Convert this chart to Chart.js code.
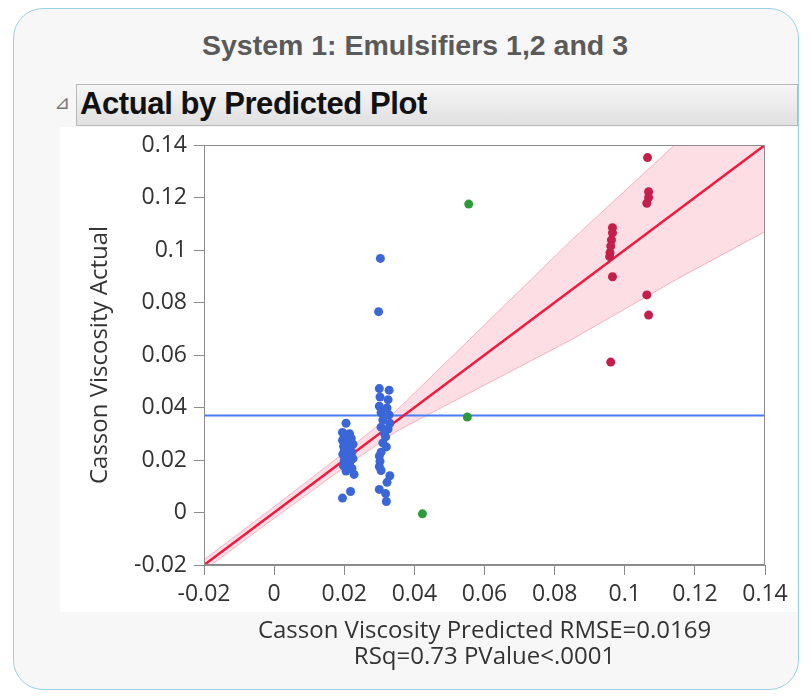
<!DOCTYPE html>
<html>
<head>
<meta charset="utf-8">
<script src="https://cdn.jsdelivr.net/npm/chart.js@4.4.1/dist/chart.umd.min.js"></script>
<style>
  body { margin:0; background:#fff; width:811px; height:700px; overflow:hidden; position:relative; font-family:"Liberation Sans", Arial, sans-serif; }
  #panel { position:absolute; left:13px; top:8px; width:784px; height:680px; border:1.5px solid #97d3e3; border-radius:30px; background:#f7f7f7; }
  #title { position:absolute; left:0; width:830px; top:29px; text-align:center; font-weight:bold; font-size:28.5px; color:#5a5a5a; }
  #plotbg { position:absolute; left:60px; top:127px; width:737px; height:485px; background:#fff; }
  #header { position:absolute; left:76px; top:84px; width:720px; height:40px; border:1px solid #b8b8b8; background:linear-gradient(#f6f6f6,#e0e0e0); }
  #header span { position:absolute; left:3px; top:1px; font-weight:bold; font-size:31px; color:#111; letter-spacing:-0.4px; }
  #tri { position:absolute; left:54px; top:91px; font-family:"DejaVu Sans"; font-size:19px; color:#777; }
  canvas { position:absolute; left:0; top:0; }
</style>
</head>
<body>
<div id="panel"></div>
<div id="title">System 1: Emulsifiers 1,2 and 3</div>
<div id="plotbg"></div>
<div id="tri">⊿</div>
<div id="header"><span>Actual by Predicted Plot</span></div>
<canvas id="grafico" width="811" height="700"></canvas>
<script>
// axis ticks
var xTicks = [-0.02, 0, 0.02, 0.04, 0.06, 0.08, 0.1, 0.12, 0.14];
var yTicks = [-0.02, 0, 0.02, 0.04, 0.06, 0.08, 0.1, 0.12, 0.14];

// blue points (two columns + two high ones)
var blueX = [0.0205, 0.0195, 0.0215, 0.0200, 0.0220, 0.0195, 0.0210, 0.0225, 0.0198, 0.0215,
             0.0200, 0.0222, 0.0196, 0.0212, 0.0225, 0.0200, 0.0215, 0.0198, 0.0222, 0.0205,
             0.0228, 0.0218, 0.0195,
             0.0300, 0.0328, 0.0302, 0.0325, 0.0300, 0.0322, 0.0305, 0.0328, 0.0310, 0.0330,
             0.0305, 0.0325, 0.0315, 0.0318, 0.0310, 0.0320, 0.0305, 0.0300, 0.0302, 0.0300,
             0.0305, 0.0330, 0.0322, 0.0300, 0.0318, 0.0320, 0.0303, 0.0298];
var blueY = [0.0340, 0.0305, 0.0300, 0.0290, 0.0282, 0.0275, 0.0268, 0.0260, 0.0252, 0.0245,
             0.0238, 0.0230, 0.0222, 0.0215, 0.0205, 0.0198, 0.0188, 0.0178, 0.0168, 0.0158,
             0.0145, 0.0080, 0.0055,
             0.0472, 0.0466, 0.0440, 0.0430, 0.0405, 0.0398, 0.0380, 0.0372, 0.0352, 0.0340,
             0.0325, 0.0318, 0.0300, 0.0288, 0.0265, 0.0250, 0.0230, 0.0215, 0.0195, 0.0175,
             0.0160, 0.0140, 0.0115, 0.0088, 0.0072, 0.0042, 0.0968, 0.0765];

var redX = [0.1065, 0.1068, 0.1068, 0.1063, 0.0965, 0.0965, 0.0962, 0.0960, 0.0958, 0.0957,
            0.0965, 0.1063, 0.1068, 0.0960];
var redY = [0.1352, 0.1222, 0.1200, 0.1178, 0.1085, 0.1065, 0.1038, 0.1015, 0.0990, 0.0975,
            0.0898, 0.0829, 0.0752, 0.0573];

var greenX = [0.0555, 0.0551, 0.0423];
var greenY = [0.1175, 0.0364, -0.0005];

// fit line, mean line, confidence band
var fitX = [-0.02, 0.14];
var fitY = [-0.02, 0.14];
var meanY = 0.037;
var bandX =     [-0.02, 0, 0.02, 0.035, 0.045, 0.065, 0.085, 0.115, 0.14];
var bandLower = [-0.022, -0.0022, 0.0172, 0.031, 0.038, 0.052, 0.066, 0.089, 0.107];
var bandUpper = [-0.018, 0.0022, 0.0228, 0.039, 0.052, 0.078, 0.104, 0.141, 0.173];

function pts(xs, ys) {
  return xs.map(function(x, i) { return {x: x, y: ys[i]}; });
}

var frame = {
  id: 'frame',
  afterDraw: function(chart) {
    var ctx = chart.ctx, a = chart.chartArea;
    ctx.save();
    ctx.strokeStyle = '#8c8c8c';
    ctx.lineWidth = 1;
    ctx.strokeRect(a.left + 0.5, a.top + 0.5, a.width - 1, a.height - 1);
    ctx.restore();
  }
};

var fam = '"Open Sans", "Liberation Sans", sans-serif';

new Chart(document.getElementById('grafico').getContext('2d'), {
  type: 'scatter',
  data: {
    datasets: [
      {data: pts(greenX, greenY), backgroundColor: '#2f9a3c', pointRadius: 4.5, borderWidth: 0, order: 1},
      {data: pts(redX, redY), backgroundColor: '#c41e4a', pointRadius: 4.5, borderWidth: 0, order: 1},
      {data: pts(blueX, blueY), backgroundColor: '#3a66d8', pointRadius: 4.5, borderWidth: 0, order: 1},
      {data: pts(fitX, fitY), showLine: true, borderColor: '#f2183e', borderWidth: 2.5, pointRadius: 0, order: 2},
      {data: pts(fitX, [meanY, meanY]), showLine: true, borderColor: '#4a7cf2', borderWidth: 2, pointRadius: 0, order: 2},
      {data: pts(bandX, bandLower), showLine: true, borderColor: 'rgba(240,70,100,0.35)', borderWidth: 1, pointRadius: 0, fill: false, order: 3},
      {data: pts(bandX, bandUpper), showLine: true, borderColor: 'rgba(240,70,100,0.35)', borderWidth: 1, pointRadius: 0,
       fill: '-1', backgroundColor: 'rgba(245,90,120,0.2)', order: 3}
    ]
  },
  options: {
    responsive: false,
    animation: false,
    layout: {padding: {left: 0, top: 145, right: 46, bottom: 0}},
    plugins: {legend: {display: false}, tooltip: {enabled: false}},
    scales: {
      x: {
        min: -0.02, max: 0.14,
        afterFit: function(s) { s.height = 135; },
        afterBuildTicks: function(s) { s.ticks = xTicks.map(function(v) { return {value: v}; }); },
        grid: {display: true, drawOnChartArea: false, tickLength: 10, color: '#8c8c8c'},
        border: {display: true, color: '#8c8c8c'},
        ticks: {font: {family: fam, size: 23}, color: '#333', padding: 6, maxRotation: 0, autoSkip: false,
                callback: function(v) { return String(Number(v.toFixed(2))); }},
        title: {display: true, text: ['Casson Viscosity Predicted RMSE=0.0169', 'RSq=0.73 PValue<.0001'],
                font: {family: fam, size: 24, lineHeight: '26px'},
                color: '#333', padding: {top: 0, bottom: 30}}
      },
      y: {
        min: -0.02, max: 0.14,
        afterFit: function(s) { s.width = 204; },
        afterBuildTicks: function(s) { s.ticks = yTicks.map(function(v) { return {value: v}; }); },
        grid: {display: true, drawOnChartArea: false, tickLength: 10, color: '#8c8c8c'},
        border: {display: true, color: '#8c8c8c'},
        ticks: {font: {family: fam, size: 23}, color: '#333', padding: 7, autoSkip: false,
                callback: function(v) { return String(Number(v.toFixed(2))); }},
        title: {display: true, text: 'Casson Viscosity Actual',
                font: {family: fam, size: 24},
                color: '#333', padding: {top: 86, bottom: 0}}
      }
    }
  },
  plugins: [frame]
});
</script>
</body>
</html>
